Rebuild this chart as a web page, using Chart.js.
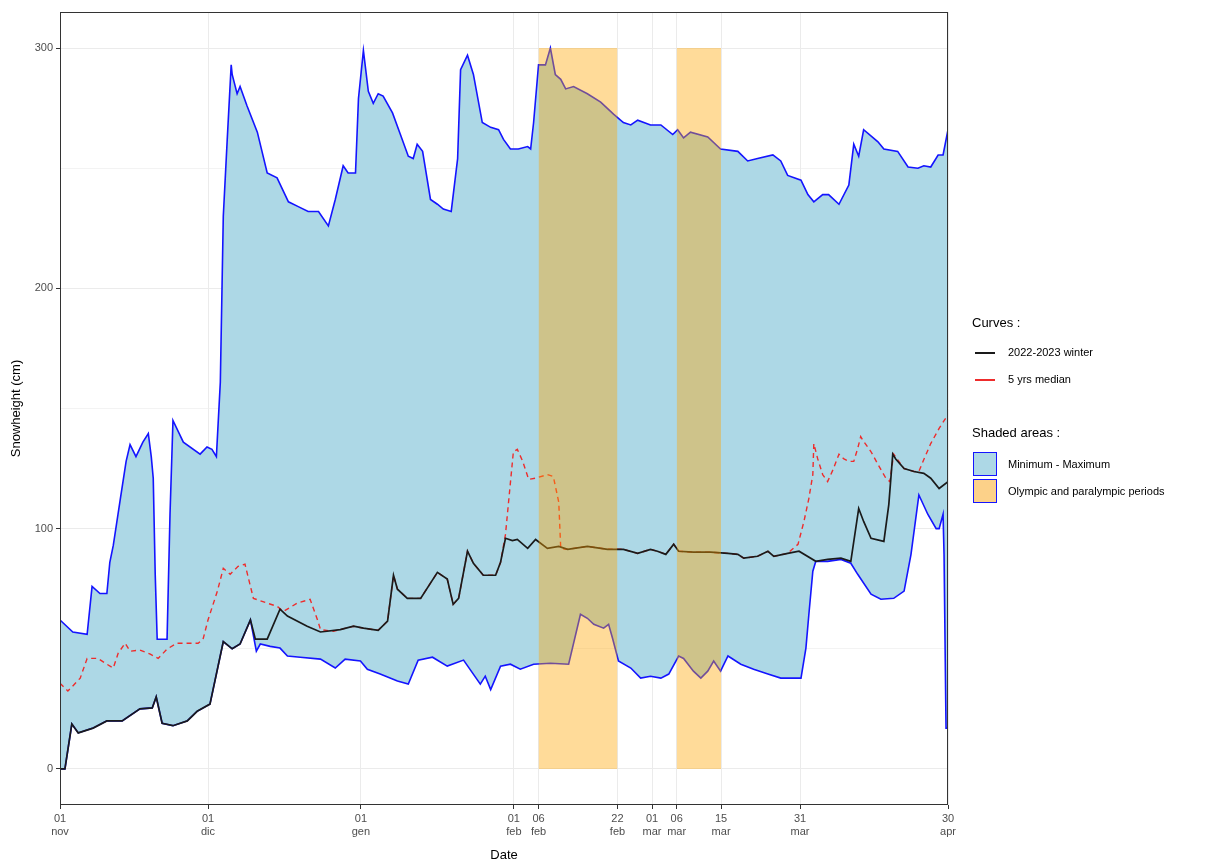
<!DOCTYPE html>
<html>
<head>
<meta charset="utf-8">
<title>Snowheight</title>
<script src="https://cdn.jsdelivr.net/npm/chart.js@4.4.0/dist/chart.umd.min.js"></script>
<style>
  body { margin: 0; background: #fff; font-family: "Liberation Sans", Arial, sans-serif; }
  #wrap { position: relative; width: 1225px; height: 863px; }
  .lg { position: absolute; white-space: nowrap; color: #000; }
  .lg-title { font-size: 13px; }
  .lg-item { font-size: 11px; }
  .lg-line { position: absolute; width: 20px; height: 0; }
  .lg-box { position: absolute; width: 24px; height: 24px; box-sizing: border-box; border: 1.5px solid #1414ff; }
</style>
</head>
<body>
<div id="wrap">
  <canvas id="snow-chart"></canvas>

  <div class="lg lg-title" style="left:972px; top:315px;">Curves :</div>
  <div class="lg-line" style="left:975px; top:352px; border-top:2px solid #1a1a1a;"></div>
  <div class="lg lg-item" style="left:1008px; top:346px;">2022-2023 winter</div>
  <div class="lg-line" style="left:975px; top:379px; border-top:2px solid #ee2c2c;"></div>
  <div class="lg lg-item" style="left:1008px; top:373px;">5 yrs median</div>

  <div class="lg lg-title" style="left:972px; top:425px;">Shaded areas :</div>
  <div class="lg-box" style="left:973px; top:452px; background:#add8e6;"></div>
  <div class="lg lg-item" style="left:1008px; top:458px;">Minimum - Maximum</div>
  <div class="lg-box" style="left:973px; top:479px; background:#fcd189;"></div>
  <div class="lg lg-item" style="left:1008px; top:485px;">Olympic and paralympic periods</div>
</div>

<script>
// days counted from 01 nov (day 0) to 30 apr (day 180)
const tickDays = [0, 30, 61, 92, 97, 113, 120, 125, 134, 150, 180];
const tickLabels = [['01', 'nov'], ['01', 'dic'], ['01', 'gen'], ['01', 'feb'], ['06', 'feb'],
    ['22', 'feb'], ['01', 'mar'], ['06', 'mar'], ['15', 'mar'], ['31', 'mar'], ['30', 'apr']];
const yTicks = [0, 50, 100, 150, 200, 250, 300];

// Olympic (06-22 feb) and paralympic (06-15 mar) periods
const olympicStart = [97, 125];
const olympicEnd = [113, 134];
const olympicTop = 300;

// 2022-2023 winter
const winterDays = [0, 1, 2.4, 3.7, 6.7, 9.5, 12.6, 16.2, 18.7, 19.5, 20.7, 22.9, 25.8, 27.8, 30.4,
    33.1, 34.9, 36.5, 38.6, 39.6, 42, 44.6, 46.1, 50.1, 52.8, 56.8, 59.5, 61.5, 64.5, 66.4, 67.6, 68.4,
    70.4, 73.1, 76.5, 78.5, 79.7, 80.8, 82.6, 83.8, 85.8, 88.3, 89.3, 90.3, 91.7, 92.7, 94.8, 96.4,
    98.8, 101.1, 102.9, 106.9, 111, 114.2, 117.1, 119.7, 121.1, 122.8, 124.4, 125.4, 128.4, 131.9,
    135.4, 137.4, 138.6, 141.4, 143.5, 144.7, 147.5, 149.8, 153.2, 155.6, 158.3, 160.3, 161.9, 162.9,
    164.4, 167, 168, 168.8, 169.4, 171.1, 173.1, 175.1, 176.5, 178.2, 180];
const winterVals = [0, 0, 18.7, 15, 17, 20, 20, 25, 25.4, 30, 19, 18, 20, 24, 27,
    53, 50, 52, 62, 54, 54, 66.5, 63.6, 59.4, 57, 58, 59.4, 58.6, 57.7, 61.5, 80.6, 74.8,
    71, 71, 81.8, 79, 68.5, 71, 90.6, 85.6, 80.6, 80.6, 86, 96, 95, 95.5, 91.8, 95.5,
    91.8, 92.6, 91.4, 92.6, 91.4, 91.4, 89.7, 91.4, 90.6, 89.3, 93.5, 90.6, 90.2, 90.2,
    89.7, 89.3, 87.7, 88.5, 90.6, 88.5, 89.7, 90.6, 86.4, 87.2, 87.7, 86.4, 108.4, 103,
    96, 94.7, 110, 131, 129, 125, 123.8, 123, 121, 116.7, 119.6];

// 5 yrs median
const medianDays = [0, 1.6, 4.1, 5.5, 7.7, 9.5, 10.8, 11.8, 13.2, 14.2, 16.2, 18.3, 19.9, 21.7, 23.7,
    26, 28, 29, 30, 31.9, 33.1, 34.5, 36.1, 37.5, 39.2, 42, 44, 45.3, 48.1, 50.7, 52.2, 52.8, 55.4,
    56.8, 59.5, 61.5, 64.5, 66.4, 67.6, 68.4, 70.4, 73.1, 76.5, 78.5, 79.7, 80.8, 82.6, 83.8, 85.8,
    88.3, 89.3, 90.3, 91.9, 92.7, 93.8, 95, 96.4, 98.8, 100, 101.1, 101.5, 102.9, 106.9, 111, 114.2,
    117.1, 119.7, 121.1, 122.8, 124.4, 125.4, 128.4, 131.9, 135.4, 137.4, 138.6, 141.4, 143.5, 144.7,
    147.5, 149.6, 150.8, 151.8, 152.6, 152.8, 153.6, 154.6, 155.6, 156.7, 157.9, 158.9, 159.9, 160.9,
    161.7, 162.3, 162.9, 164.4, 166, 167.4, 168.2, 169, 171.1, 173.1, 174.1, 175.1, 176.5, 178.2, 180];
const medianVals = [35.7, 32.4, 37.8, 46, 46, 43.6, 42, 48.2, 52.3, 49, 49.5, 47.8, 46, 49.9, 52.3,
    52.3, 52.3, 54, 62, 74, 83.5, 81, 84.3, 85.2, 71, 69, 67.7, 65.6, 69, 70.6, 62, 58, 57.3,
    58, 59.4, 58.6, 57.7, 61.5, 80.6, 74.8, 71, 71, 81.8, 79, 68.5, 71, 90.6, 85.6, 80.6,
    80.6, 86, 97.6, 132, 133, 128, 120.5, 121, 122.5, 121.7, 111, 91.8, 91.4, 92.6, 91.4, 91.4,
    89.7, 91.4, 90.6, 89.3, 93.5, 90.6, 90.2, 90.2, 89.7, 89.3, 87.7, 88.5, 90.6, 88.5,
    89.7, 93.5, 103, 112.6, 122.5, 135.4, 129, 122.5, 119.6, 124.6, 131, 129, 128, 128,
    133.4, 138.3, 136.3, 132, 126, 121, 119.6, 131, 125, 123.8, 123.8, 128.8, 135.4, 141.7, 147.5];

// maximum of the previous winters
const maxDays = [0, 2.6, 5.5, 6.5, 8.1, 9.5, 10.1, 10.8, 12.2, 13.4, 14.2, 15.4, 16.8, 17.9, 18.5,
    18.9, 19.3, 19.7, 21.7, 22.3, 22.9, 25, 28.4, 29.8, 30.8, 31.7, 32.5, 33.1, 33.9, 34.7,
    34.9, 35.9, 36.5, 37.9, 40, 42, 44, 46.3, 48.3, 50.3, 52.4, 54.4, 55.8, 57.4, 58.4,
    59.9, 60.5, 61.5, 62.5, 63.5, 64.5, 65.5, 67.4, 69, 70.6, 71.6, 72.4, 73.5, 75.1, 76.5,
    77.7, 79.3, 80.6, 81.2, 82.6, 83.8, 85.6, 87.3, 88.9, 89.9, 91.3, 92.9, 94.8, 95.4, 96,
    97, 98.4, 99.4, 100.4, 101.5, 102.5, 104.1, 106.9, 109.6, 112.2, 114.2, 115.7, 117.1, 119.7, 121.8,
    124.2, 125.2, 126.4, 127.8, 131.3, 133.9, 137.4, 139.4, 141.4, 144.5, 146.1, 147.5, 150.2, 151.6, 152.8,
    154.6, 155.8, 157.9, 159.9, 160.9, 161.9, 162.9, 165.8, 167, 169.8, 171.9, 173.9, 175.1, 176.5, 178,
    179, 180];
const maxVals = [62, 57, 56, 76, 73, 73, 86, 93, 112, 128, 135, 130, 136, 139.6, 130,
    121, 81, 54, 54, 106, 145, 136, 131, 134, 133, 130, 161, 230, 262, 293,
    289, 281, 284, 276, 265, 248, 246, 236, 234, 232, 232, 226, 237, 251, 248,
    248, 279, 299, 282, 277, 281, 280, 273, 264, 255, 254, 260, 257, 237, 235,
    233, 232, 254, 291, 297, 289, 269, 267, 266, 262, 258, 258, 259, 258, 269,
    293, 293, 300, 289, 287, 283, 284, 281, 277.5, 272.5, 269, 268, 270, 268, 268,
    264, 266, 262.6, 265, 263, 258, 257, 253, 254, 255.5, 253, 247, 245, 239, 236,
    239, 239, 235, 243, 260, 255, 266, 261, 258, 257, 250.5, 250, 251, 250.5, 255.5,
    255.5, 266];

// minimum of the previous winters
const minDays = [0, 1, 2.4, 3.7, 6.7, 9.5, 12.6, 16.2, 18.7, 19.5, 20.7, 22.9, 25.8, 27.8, 30.4,
    33.1, 34.9, 36.5, 38.6, 39.8, 40.6, 42.6, 44.6, 46.1, 48.7, 52.8, 55.8, 57.8, 60.9, 62.3,
    64.9, 68.4, 70.6, 72.6, 75.5, 78.5, 81.8, 85.2, 86.2, 87.3, 89.3, 91.3, 93.3, 96, 99.4,
    103.1, 105.5, 106.9, 108.2, 110.2, 111.2, 112, 113.2, 115.7, 117.7, 119.7, 121.8, 123.4, 125.4, 126.4,
    128.4, 129.9, 131.3, 132.5, 133.9, 135.4, 138, 140.6, 143.5, 146.1, 150.2, 151.2, 151.8, 152.6, 153.2,
    155.6, 158.3, 160.3, 161.7, 164.4, 166.4, 169, 171.1, 172.5, 174.1, 175.9, 177.6, 178.2, 179, 179.2,
    179.6, 180];
const minVals = [0, 0, 18.7, 15, 17, 20, 20, 25, 25.4, 30, 19, 18, 20, 24, 27,
    53, 50, 52, 62, 49, 52, 51, 50.3, 47, 46.5, 45.7, 42, 45.7, 44.9, 41.5,
    39.5, 36.6, 35.3, 45.3, 46.5, 42.8, 45.3, 35.3, 38.6, 33, 42.8, 43.6, 41.5, 43.6, 44,
    43.6, 64.4, 62.7, 60.2, 58.6, 60.2, 54.4, 44.9, 42, 37.8, 38.6, 37.8, 39.5, 47, 46,
    40.7, 37.8, 40.7, 44.9, 40.7, 47, 43.6, 41.5, 39.5, 37.8, 37.8, 50.3, 64.4, 82.3, 86.4,
    86.4, 87.2, 85.6, 81, 72.7, 70.6, 71, 74, 89.3, 114, 106, 100, 100, 106, 89,
    17, 17];

const toPoints = (days, vals) => days.map((d, i) => ({ x: d, y: vals[i] }));

const olympicSets = olympicStart.map((s, i) => ({
    label: 'olympic' + i,
    data: [{ x: s, y: olympicTop }, { x: olympicEnd[i], y: olympicTop }],
    borderWidth: 0,
    borderColor: 'rgba(0,0,0,0)',
    backgroundColor: 'rgba(255,165,0,0.4)',
    fill: 'origin',
    pointRadius: 0,
}));

// panel border like ggplot theme_bw
const panelBorder = {
    id: 'panelBorder',
    afterDraw(chart) {
        const { ctx, chartArea: a } = chart;
        ctx.save();
        ctx.strokeStyle = '#333333';
        ctx.lineWidth = 1;
        ctx.strokeRect(a.left + 0.5, a.top + 0.5, a.right - a.left - 1, a.bottom - a.top - 1);
        ctx.restore();
    }
};

const ctx = document.getElementById('snow-chart').getContext('2d');
const myChart = new Chart(ctx, {
    type: 'line',
    data: {
        datasets: [
            ...olympicSets,
            {
                label: '2022-2023 winter',
                data: toPoints(winterDays, winterVals),
                borderColor: '#1a1a1a',
                borderWidth: 1.7,
                pointRadius: 0,
                fill: false,
            },
            {
                label: '5 yrs median',
                data: toPoints(medianDays, medianVals),
                borderColor: '#ee2c2c',
                borderWidth: 1.4,
                borderDash: [5, 4],
                pointRadius: 0,
                fill: false,
            },
            {
                label: 'Minimum',
                data: toPoints(minDays, minVals),
                borderColor: '#1414ff',
                borderWidth: 1.6,
                pointRadius: 0,
                fill: false,
            },
            {
                label: 'Maximum',
                data: toPoints(maxDays, maxVals),
                borderColor: '#1414ff',
                borderWidth: 1.6,
                backgroundColor: '#add8e6',
                pointRadius: 0,
                fill: '-1',
            },
        ],
    },
    options: {
        responsive: true,
        maintainAspectRatio: false,
        animation: false,
        layout: { padding: { left: 0, top: 12, right: 277, bottom: 0 } },
        plugins: {
            legend: { display: false },
            tooltip: { enabled: false },
        },
        scales: {
            x: {
                type: 'linear',
                min: 0,
                max: 180,
                afterBuildTicks: scale => { scale.ticks = tickDays.map(v => ({ value: v })); },
                afterFit: scale => { scale.height = 58; },
                ticks: {
                    autoSkip: false,
                    maxRotation: 0,
                    padding: 3,
                    color: '#4d4d4d',
                    font: { family: 'Liberation Sans', size: 11, lineHeight: 1.2 },
                    callback: v => tickLabels[tickDays.indexOf(v)],
                },
                grid: { color: '#ebebeb', tickLength: 4, tickColor: '#333333' },
                border: { display: false },
                title: {
                    display: true,
                    text: 'Date',
                    color: '#000',
                    font: { family: 'Liberation Sans', size: 13 },
                    padding: { top: 0, bottom: 0 },
                },
            },
            y: {
                type: 'linear',
                min: -15,
                max: 315,
                afterBuildTicks: scale => { scale.ticks = yTicks.map(v => ({ value: v })); },
                afterFit: scale => { scale.width = 60; },
                ticks: {
                    padding: 3,
                    color: '#4d4d4d',
                    font: { family: 'Liberation Sans', size: 11 },
                    callback: v => (v % 100 === 0 ? String(v) : ''),
                },
                grid: {
                    color: '#ebebeb',
                    lineWidth: c => (c.tick && c.tick.value % 100 === 0 ? 1 : 0.6),
                    tickLength: 4,
                    tickColor: c => (c.tick && c.tick.value % 100 === 0 ? '#333333' : 'rgba(0,0,0,0)'),
                },
                border: { display: false },
                title: {
                    display: true,
                    text: 'Snowheight (cm)',
                    color: '#000',
                    font: { family: 'Liberation Sans', size: 13 },
                    padding: { top: 9, bottom: 0 },
                },
            },
        },
    },
    plugins: [panelBorder],
});
</script>
</body>
</html>
